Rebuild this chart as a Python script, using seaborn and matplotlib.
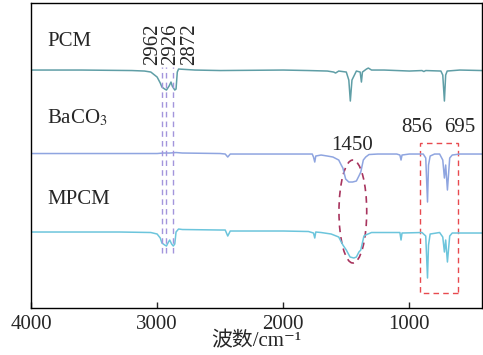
import numpy as np
import pandas as pd
import seaborn as sns
import matplotlib.pyplot as plt
from matplotlib.patches import Ellipse, Rectangle

# wavenumber (cm-1) and relative transmittance (offset, arbitrary units)
pcm_wn = [4000, 3600, 3200, 3100, 3050, 3000, 2975, 2962, 2940, 2926, 2905, 2890,
          2880, 2860, 2850, 2840, 2830, 2700, 2500, 2000, 1800, 1650, 1600, 1585,
          1560, 1500, 1480, 1468, 1455, 1420, 1390, 1380, 1372, 1340, 1325, 1300,
          1200, 1000, 900, 885, 870, 750, 735, 722, 712, 700, 600, 424]
pcm_t = [238, 238, 237.5, 237, 236, 231, 225, 221, 219, 218, 222, 226,
         222, 218, 219, 236, 239, 238, 237.5, 238, 237.5, 237, 236, 235,
         237, 236, 228, 207, 228, 237, 236, 226, 236, 239, 240, 238,
         238, 237, 237.5, 236.5, 237.5, 237, 233, 207, 233, 237, 238, 237.5]

baco3_wn = [4000, 3500, 3000, 2950, 2900, 2850, 2800, 2500, 2460, 2440, 2420, 2000,
            1800, 1770, 1760, 1750, 1742, 1700, 1650, 1606, 1560, 1540, 1527, 1505,
            1480, 1450, 1420, 1400, 1385, 1365, 1346, 1320, 1250, 1100, 1075, 1066,
            1058, 1000, 890, 870, 856, 848, 835, 800, 760, 735, 722, 712, 698, 680,
            660, 600, 424]
baco3_t = [154.5, 154.5, 154.5, 155, 155, 155.5, 155, 154.5, 154, 151, 154, 154,
           154, 154, 151, 146, 152, 153, 152, 151, 148, 143, 140, 129,
           126, 126, 127, 132, 136, 148, 151, 153.5, 154, 154, 153, 148,
           153, 154, 154, 150, 106, 143, 152, 154, 154, 148, 130, 143, 118, 150,
           153, 154, 154]

mpcm_wn = [4000, 3300, 3050, 3000, 2975, 2962, 2940, 2926, 2910, 2900, 2885, 2872,
           2860, 2850, 2830, 2800, 2500, 2460, 2440, 2420, 2000, 1800, 1760, 1750,
           1742, 1700, 1620, 1560, 1527, 1500, 1470, 1440, 1420, 1400, 1385, 1360,
           1346, 1300, 1075, 1066, 1058, 900, 870, 856, 848, 835, 760, 735, 722,
           712, 698, 680, 660, 424]
mpcm_t = [76, 76, 75.5, 74, 70, 65, 63, 62, 66, 68, 64, 62,
          64, 76, 79, 78.5, 78, 78, 72, 77, 77, 76.5, 75, 70,
          76, 75.5, 74, 71, 63, 58, 51, 50, 51, 56, 58, 72,
          73, 75.5, 75.5, 68, 75, 75.5, 72, 30, 63, 74, 75.5, 71, 56,
          68, 46, 72, 75, 75]

ch_peaks = [2962, 2926, 2872]

df = pd.concat([
    pd.DataFrame({'wn': pcm_wn, 'T': pcm_t, 'sample': 'PCM'}),
    pd.DataFrame({'wn': baco3_wn, 'T': baco3_t, 'sample': 'BaCO3'}),
    pd.DataFrame({'wn': mpcm_wn, 'T': mpcm_t, 'sample': 'MPCM'}),
])
palette = {'PCM': '#5f9ea6', 'BaCO3': '#8fa5e0', 'MPCM': '#6cc5dc'}

sns.set_style('ticks')
plt.rcParams['font.family'] = ['Liberation Serif', 'Noto Sans CJK SC', 'DejaVu Serif']
plt.rcParams['mathtext.fontset'] = 'stix'
plt.rcParams['axes.linewidth'] = 1.0

fs = 15
fig = plt.figure(figsize=(4.83, 3.55), dpi=100)
ax = fig.add_axes([0.0642, 0.1324, 0.9337, 0.859])

sns.lineplot(data=df, x='wn', y='T', hue='sample', palette=palette, estimator=None,
             sort=True, lw=1.1, legend=False, ax=ax)

ax.set_xlim(4000, 424)
ax.set_ylim(0, 305)
ax.set_yticks([])
ax.set_xticks([4000, 3000, 2000, 1000])
ax.tick_params(axis='x', direction='in', length=4, width=1, labelsize=fs, pad=5,
               top=False)
ax.set_xlabel('波数/cm⁻¹', fontsize=fs, labelpad=-1)
ax.set_ylabel('')
for s in ax.spines.values():
    s.set_visible(True)
    s.set_color('black')

# CH stretching guide lines
for wn in ch_peaks:
    ax.plot([wn, wn], [55, 241], ls=(0, (4, 3)), color='#a395dc', lw=1.0)
ax.text(2890, 243, '\n'.join(str(p) for p in ch_peaks), rotation=90,
        ha='center', va='bottom', multialignment='left', linespacing=0.98,
        fontsize=fs)

# 1450 band
ax.add_patch(Ellipse((1448, 96.5), 220, 103, fill=False, ec='#a8345e', lw=1.2,
                     ls=(0, (4, 3))))
ax.text(1454, 158, '1450', ha='center', va='baseline', fontsize=fs)

# carbonate bands
ax.add_patch(Rectangle((612, 15), 915 - 612, 150, fill=False, ec='#e84a4f', lw=1.0,
                       ls=(0, (4, 3))))
ax.text(942, 176, '856', ha='center', va='baseline', fontsize=fs)
ax.text(598, 176, '695', ha='center', va='baseline', fontsize=fs)

# sample labels
ax.text(3870, 262, 'PCM', ha='left', va='baseline', fontsize=fs)
ax.text(3870, 184.5, 'BaCO$_3$', ha='left', va='baseline', fontsize=fs)
ax.text(3870, 104, 'MPCM', ha='left', va='baseline', fontsize=fs)

fig.savefig('out.png', dpi=100)
